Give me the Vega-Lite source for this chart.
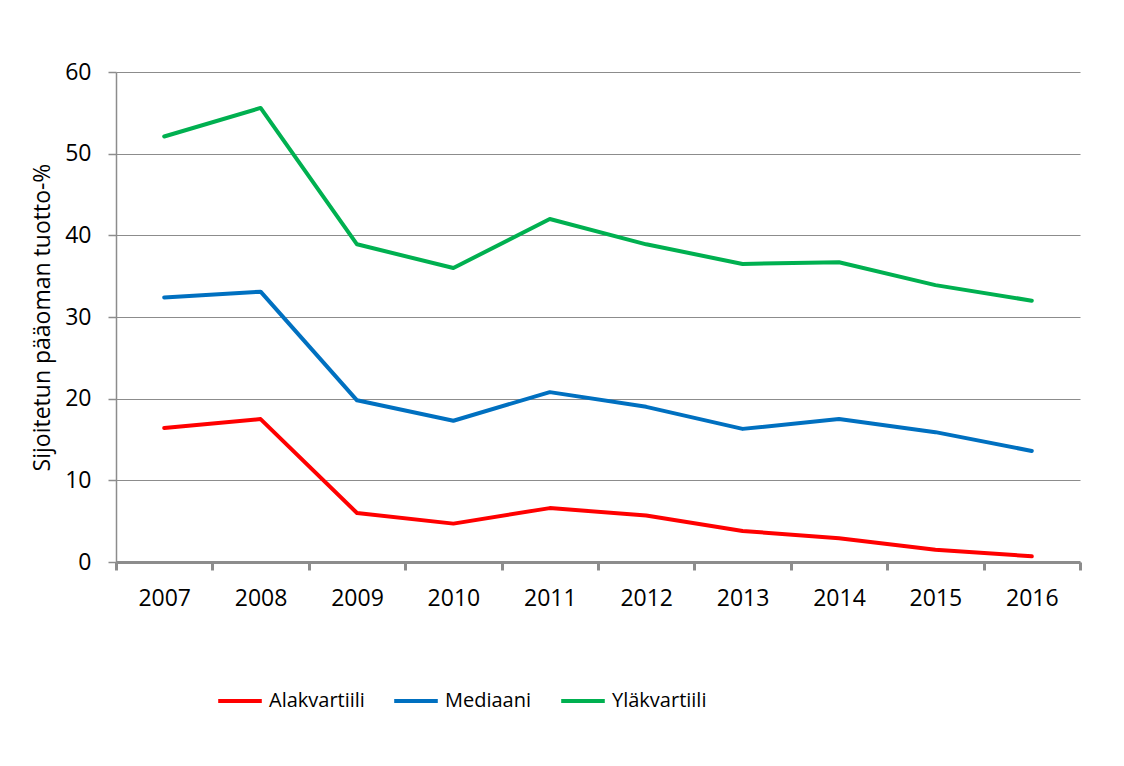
{
  "$schema": "https://vega.github.io/schema/vega-lite/v6.json",
  "autosize": {"type": "none"},
  "width": 964,
  "height": 490,
  "padding": {"left": 116, "top": 72, "right": 44, "bottom": 204},
  "background": "white",
  "config": {
    "font": "Open Sans",
    "view": {"stroke": null},
    "axis": {"labelFont": "Open Sans", "titleFont": "Open Sans"},
    "legend": {"labelFont": "Open Sans"}
  },
  "data": {
    "values": [
      {"vuosi": "2007", "sarja": "Alakvartiili", "arvo": 16.4},
      {"vuosi": "2008", "sarja": "Alakvartiili", "arvo": 17.5},
      {"vuosi": "2009", "sarja": "Alakvartiili", "arvo": 6.0},
      {"vuosi": "2010", "sarja": "Alakvartiili", "arvo": 4.7},
      {"vuosi": "2011", "sarja": "Alakvartiili", "arvo": 6.6},
      {"vuosi": "2012", "sarja": "Alakvartiili", "arvo": 5.7},
      {"vuosi": "2013", "sarja": "Alakvartiili", "arvo": 3.8},
      {"vuosi": "2014", "sarja": "Alakvartiili", "arvo": 2.9},
      {"vuosi": "2015", "sarja": "Alakvartiili", "arvo": 1.5},
      {"vuosi": "2016", "sarja": "Alakvartiili", "arvo": 0.7},
      {"vuosi": "2007", "sarja": "Mediaani", "arvo": 32.4},
      {"vuosi": "2008", "sarja": "Mediaani", "arvo": 33.1},
      {"vuosi": "2009", "sarja": "Mediaani", "arvo": 19.8},
      {"vuosi": "2010", "sarja": "Mediaani", "arvo": 17.3},
      {"vuosi": "2011", "sarja": "Mediaani", "arvo": 20.8},
      {"vuosi": "2012", "sarja": "Mediaani", "arvo": 19.0},
      {"vuosi": "2013", "sarja": "Mediaani", "arvo": 16.3},
      {"vuosi": "2014", "sarja": "Mediaani", "arvo": 17.5},
      {"vuosi": "2015", "sarja": "Mediaani", "arvo": 15.9},
      {"vuosi": "2016", "sarja": "Mediaani", "arvo": 13.6},
      {"vuosi": "2007", "sarja": "Yläkvartiili", "arvo": 52.1},
      {"vuosi": "2008", "sarja": "Yläkvartiili", "arvo": 55.6},
      {"vuosi": "2009", "sarja": "Yläkvartiili", "arvo": 38.9},
      {"vuosi": "2010", "sarja": "Yläkvartiili", "arvo": 36.0},
      {"vuosi": "2011", "sarja": "Yläkvartiili", "arvo": 42.0},
      {"vuosi": "2012", "sarja": "Yläkvartiili", "arvo": 38.9},
      {"vuosi": "2013", "sarja": "Yläkvartiili", "arvo": 36.5},
      {"vuosi": "2014", "sarja": "Yläkvartiili", "arvo": 36.7},
      {"vuosi": "2015", "sarja": "Yläkvartiili", "arvo": 33.9},
      {"vuosi": "2016", "sarja": "Yläkvartiili", "arvo": 32.0}
    ]
  },
  "mark": {"type": "line", "strokeWidth": 4, "strokeCap": "round", "strokeJoin": "round"},
  "encoding": {
    "x": {
      "field": "vuosi",
      "type": "ordinal",
      "scale": {"type": "band", "paddingInner": 0, "paddingOuter": 0},
      "axis": {
        "title": null,
        "labelAngle": 0,
        "labelFontSize": 23,
        "labelColor": "black",
        "labelPadding": 17,
        "domainColor": "#8c8c8c",
        "domainWidth": 3,
        "tickColor": "#8c8c8c",
        "tickWidth": 3,
        "tickSize": 8,
        "tickBand": "extent",
        "grid": false
      }
    },
    "y": {
      "field": "arvo",
      "type": "quantitative",
      "scale": {"domain": [0, 60], "nice": false},
      "axis": {
        "title": "Sijoitetun pääoman tuotto-%",
        "titleFontSize": 23,
        "titleFontWeight": "normal",
        "titleColor": "black",
        "titlePadding": 10,
        "values": [0, 10, 20, 30, 40, 50, 60],
        "labelFontSize": 23,
        "labelColor": "black",
        "labelPadding": 17,
        "domainColor": "#8c8c8c",
        "domainWidth": 1.5,
        "tickColor": "#8c8c8c",
        "tickSize": 8,
        "tickWidth": 1.5,
        "grid": true,
        "gridColor": "#8c8c8c",
        "gridWidth": 1.2
      }
    },
    "color": {
      "field": "sarja",
      "type": "nominal",
      "scale": {
        "domain": ["Alakvartiili", "Mediaani", "Yläkvartiili"],
        "range": ["#FF0000", "#0070C0", "#00B050"]
      },
      "legend": {
        "title": null,
        "orient": "none",
        "direction": "horizontal",
        "legendX": 100,
        "legendY": 605,
        "symbolType": "stroke",
        "symbolSize": 1900,
        "symbolStrokeWidth": 4,
        "labelFontSize": 20,
        "labelColor": "black",
        "labelOffset": 5,
        "columnPadding": 21,
        "symbolOffset": 0
      }
    }
  }
}
